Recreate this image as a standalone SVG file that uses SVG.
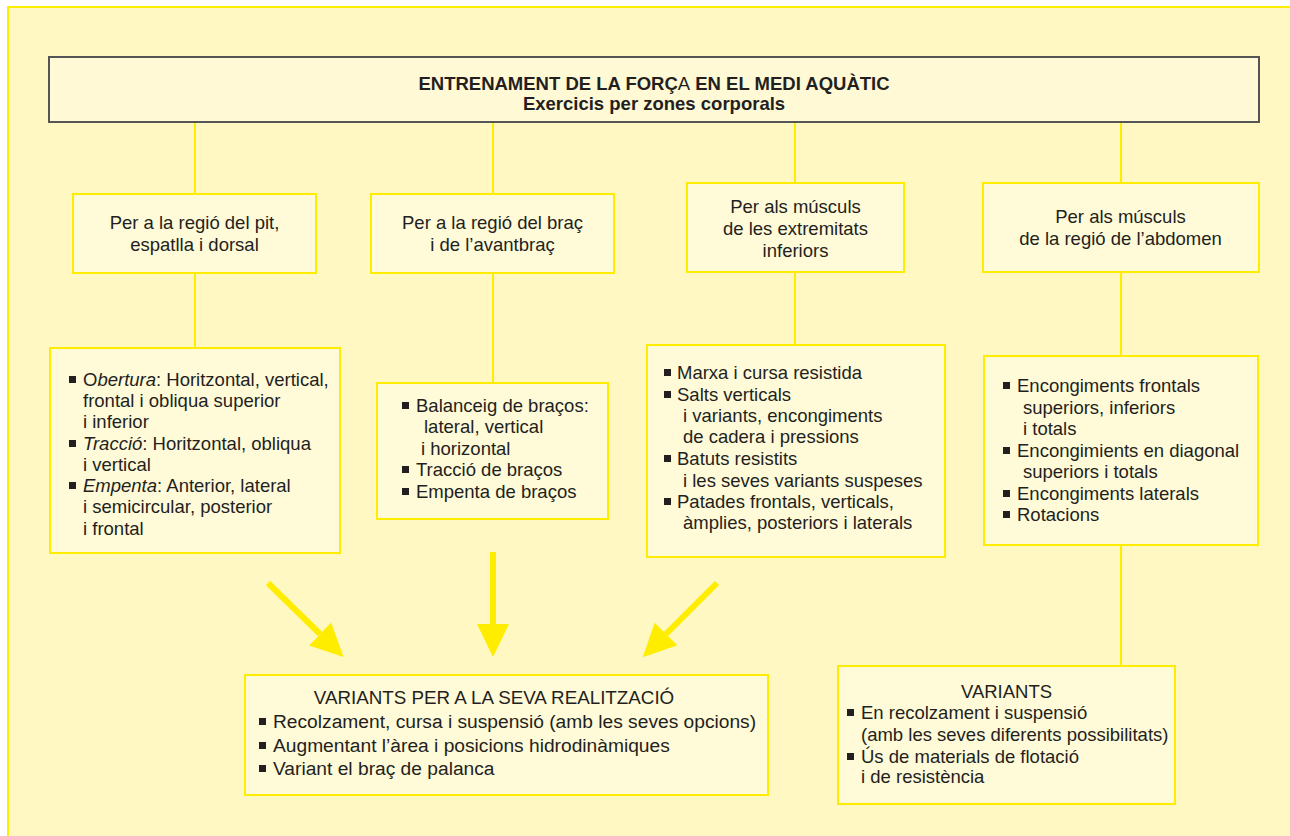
<svg xmlns="http://www.w3.org/2000/svg" xmlns:xlink="http://www.w3.org/1999/xlink" width="1290" height="836" viewBox="0 0 1290 836">
<style>
.t{font-family:"Liberation Sans",Arial,Helvetica,sans-serif;font-size:18.5px;fill:#231f20}
.L{font-size:19.2px}
.c{text-anchor:middle}
.b{font-weight:bold}
.i{font-style:italic}
.n{font-weight:normal}
.box{fill:#fffad8;stroke:#ffed00;stroke-width:2}
.ln{stroke:#ffed00;stroke-width:2;fill:none}
.ar{stroke:#ffed00;stroke-width:6;fill:none}
</style>
<defs>
<rect id="sq" width="7" height="7" fill="#231f20"/>
<marker id="ah" viewBox="0 -16 33 32" refX="0" refY="0" markerWidth="33" markerHeight="32" markerUnits="userSpaceOnUse" orient="auto">
<path d="M0,-16 L33,0 L0,16 z" fill="#ffed00"/>
</marker>
</defs>
<rect x="0" y="0" width="1290" height="836" fill="#ffffff"/>
<rect x="8" y="7" width="1300" height="850" fill="#fff8c2" stroke="#ffed00" stroke-width="2"/>

<g id="connectors">
<line class="ln" x1="195" y1="122" x2="195" y2="194"/>
<line class="ln" x1="493" y1="122" x2="493" y2="194"/>
<line class="ln" x1="795" y1="122" x2="795" y2="183"/>
<line class="ln" x1="1121" y1="122" x2="1121" y2="183"/>
<line class="ln" x1="195" y1="273" x2="195" y2="348"/>
<line class="ln" x1="493" y1="273" x2="493" y2="383"/>
<line class="ln" x1="795" y1="272" x2="795" y2="345"/>
<line class="ln" x1="1121" y1="272" x2="1121" y2="356"/>
<line class="ln" x1="1121" y1="545" x2="1121" y2="666"/>
<line class="ar" x1="268" y1="583" x2="320" y2="634" marker-end="url(#ah)"/>
<line class="ar" x1="493" y1="552" x2="493" y2="624" marker-end="url(#ah)"/>
<line class="ar" x1="717" y1="583" x2="666" y2="634" marker-end="url(#ah)"/>
</g>

<g id="title">
<rect x="49" y="57" width="1210" height="65" fill="#fff9d6" stroke="#555555" stroke-width="2"/>
<text class="t c b" x="654" y="90">ENTRENAMENT DE LA FORÇ<tspan class="n">A</tspan> EN EL MEDI AQUÀTIC</text>
<text class="t c b" x="654" y="110">Exercicis per zones corporals</text>
</g>

<g id="h1">
<rect class="box" x="73" y="194" width="243" height="79"/>
<text class="t c" x="194.5" y="229">Per a la regió del pit,</text>
<text class="t c" x="194.5" y="251">espatlla i dorsal</text>
</g>
<g id="h2">
<rect class="box" x="371" y="194" width="243" height="79"/>
<text class="t c" x="492.5" y="229">Per a la regió del braç</text>
<text class="t c" x="492.5" y="251">i de l’avantbraç</text>
</g>
<g id="h3">
<rect class="box" x="687" y="183" width="217" height="89"/>
<text class="t c" x="795.5" y="213">Per als músculs</text>
<text class="t c" x="795.5" y="235">de les extremitats</text>
<text class="t c" x="795.5" y="257">inferiors</text>
</g>
<g id="h4">
<rect class="box" x="983" y="183" width="276" height="89"/>
<text class="t c" x="1120.5" y="223">Per als músculs</text>
<text class="t c" x="1120.5" y="245">de la regió de l’abdomen</text>
</g>

<g id="d1">
<rect class="box" x="50" y="348" width="290" height="205"/>
<use href="#sq" x="69" y="376"/>
<text class="t" x="83" y="386">O<tspan class="i">bertura</tspan>: Horitzontal, vertical,</text>
<text class="t" x="83" y="407">frontal i obliqua superior</text>
<text class="t" x="83" y="428">i inferior</text>
<use href="#sq" x="69" y="440"/>
<text class="t" x="83" y="450"><tspan class="i">Tracció</tspan>: Horitzontal, obliqua</text>
<text class="t" x="83" y="471">i vertical</text>
<use href="#sq" x="69" y="482"/>
<text class="t" x="83" y="492"><tspan class="i">Empenta</tspan>: Anterior, lateral</text>
<text class="t" x="83" y="513">i semicircular, posterior</text>
<text class="t" x="83" y="535">i frontal</text>
</g>

<g id="d2">
<rect class="box" x="377" y="383" width="231" height="136"/>
<use href="#sq" x="402" y="402"/>
<text class="t" x="416" y="412">Balanceig de braços:</text>
<text class="t" x="424" y="433">lateral, vertical</text>
<text class="t" x="421" y="455">i horizontal</text>
<use href="#sq" x="402" y="466"/>
<text class="t" x="416" y="476">Tracció de braços</text>
<use href="#sq" x="402" y="488"/>
<text class="t" x="416" y="498">Empenta de braços</text>
</g>

<g id="d3">
<rect class="box" x="647" y="345" width="298" height="212"/>
<use href="#sq" x="664" y="369"/>
<text class="t" x="677" y="379">Marxa i cursa resistida</text>
<use href="#sq" x="664" y="391"/>
<text class="t" x="677" y="401">Salts verticals</text>
<text class="t" x="683" y="422">i variants, encongiments</text>
<text class="t" x="683" y="443">de cadera i pressions</text>
<use href="#sq" x="664" y="455"/>
<text class="t" x="677" y="465">Batuts resistits</text>
<text class="t" x="683" y="487">i les seves variants suspeses</text>
<use href="#sq" x="664" y="498"/>
<text class="t" x="677" y="508">Patades frontals, verticals,</text>
<text class="t" x="683" y="529">àmplies, posteriors i laterals</text>
</g>

<g id="d4">
<rect class="box" x="984" y="356" width="274" height="189"/>
<use href="#sq" x="1003" y="382"/>
<text class="t" x="1017" y="392">Encongiments frontals</text>
<text class="t" x="1023" y="414">superiors, inferiors</text>
<text class="t" x="1023" y="435">i totals</text>
<use href="#sq" x="1003" y="447"/>
<text class="t" x="1017" y="457">Encongimients en diagonal</text>
<text class="t" x="1023" y="478">superiors i totals</text>
<use href="#sq" x="1003" y="490"/>
<text class="t" x="1017" y="500">Encongiments laterals</text>
<use href="#sq" x="1003" y="511"/>
<text class="t" x="1017" y="521">Rotacions</text>
</g>

<g id="v1">
<rect class="box" x="245" y="675" width="523" height="120"/>
<text class="t c" x="494" y="704" style="font-size:18.8px">VARIANTS PER A LA SEVA REALITZACIÓ</text>
<use href="#sq" x="259" y="718"/>
<text class="t L" x="273" y="728">Recolzament, cursa i suspensió (amb les seves opcions)</text>
<use href="#sq" x="259" y="742"/>
<text class="t L" x="273" y="752">Augmentant l’àrea i posicions hidrodinàmiques</text>
<use href="#sq" x="259" y="765"/>
<text class="t L" x="273" y="775">Variant el braç de palanca</text>
</g>

<g id="v2">
<rect class="box" x="838" y="666" width="337" height="138"/>
<text class="t c" x="1006.5" y="698">VARIANTS</text>
<use href="#sq" x="847" y="709"/>
<text class="t" x="861" y="719">En recolzament i suspensió</text>
<text class="t" x="861" y="741">(amb les seves diferents possibilitats)</text>
<use href="#sq" x="847" y="753"/>
<text class="t" x="861" y="763">Ús de materials de flotació</text>
<text class="t" x="861" y="783">i de resistència</text>
</g>
</svg>
